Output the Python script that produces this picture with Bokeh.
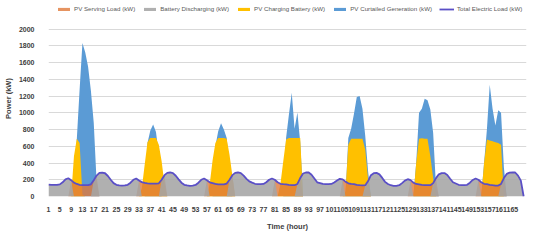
from bokeh.plotting import figure
from bokeh.models import Range1d, FixedTicker, Legend, LegendItem, ColumnDataSource
from bokeh.embed import file_html
from bokeh.resources import INLINE

hours = list(range(1, 170))

# Total electric load (kW), one row per day (hours 1-24 of each day)
load = [
    143, 140, 140, 140, 145, 170, 205, 218, 195, 165, 150, 140, 135, 135, 135, 145, 195, 250, 282, 285, 278, 245, 200, 160,
    140, 132, 130, 132, 140, 165, 200, 215, 192, 172, 162, 158, 155, 155, 155, 158, 200, 255, 283, 287, 280, 248, 205, 165,
    140, 132, 128, 130, 138, 165, 200, 215, 195, 170, 160, 150, 145, 145, 145, 155, 200, 255, 282, 287, 280, 250, 210, 180,
    165, 152, 148, 147, 150, 170, 200, 215, 200, 170, 152, 147, 145, 140, 137, 135, 150, 220, 275, 287, 287, 260, 215, 170,
    160, 150, 147, 147, 150, 168, 192, 212, 205, 178, 158, 150, 147, 140, 135, 132, 135, 185, 255, 279, 282, 265, 222, 175,
    150, 135, 128, 128, 135, 160, 190, 207, 195, 165, 150, 145, 140, 137, 135, 135, 160, 220, 265, 279, 280, 258, 212, 170,
    155, 140, 135, 135, 140, 165, 198, 215, 200, 170, 152, 147, 140, 135, 131, 131, 150, 220, 270, 285, 287, 287, 250, 190,
    0,
]

# PV serving load (kW)
serving = [
    0, 0, 0, 0, 0, 0, 0, 0, 195, 165, 150, 140, 135, 135, 135, 145, 195, 250, 0, 0, 0, 0, 0, 0,
    0, 0, 0, 0, 0, 0, 0, 0, 192, 172, 162, 158, 155, 155, 155, 158, 200, 255, 0, 0, 0, 0, 0, 0,
    0, 0, 0, 0, 0, 0, 0, 0, 195, 170, 160, 150, 145, 145, 145, 155, 200, 255, 0, 0, 0, 0, 0, 0,
    0, 0, 0, 0, 0, 0, 0, 0, 200, 170, 152, 147, 145, 140, 137, 135, 150, 220, 0, 0, 0, 0, 0, 0,
    0, 0, 0, 0, 0, 0, 0, 0, 205, 178, 158, 150, 147, 140, 135, 132, 135, 185, 0, 0, 0, 0, 0, 0,
    0, 0, 0, 0, 0, 0, 0, 0, 195, 165, 150, 145, 140, 137, 135, 135, 160, 220, 0, 0, 0, 0, 0, 0,
    0, 0, 0, 0, 0, 0, 0, 0, 200, 170, 152, 147, 140, 135, 131, 131, 150, 220, 0, 0, 0, 0, 0, 0,
    0,
]

# Battery discharging (kW)
discharging = [
    143, 140, 140, 140, 145, 170, 205, 218, 195, 0, 0, 0, 0, 0, 0, 0, 195, 250, 282, 285, 278, 245, 200, 160,
    140, 132, 130, 132, 140, 165, 200, 215, 192, 0, 0, 0, 0, 0, 0, 0, 200, 255, 283, 287, 280, 248, 205, 165,
    140, 132, 128, 130, 138, 165, 200, 215, 195, 0, 0, 0, 0, 0, 0, 0, 200, 255, 282, 287, 280, 250, 210, 180,
    165, 152, 148, 147, 150, 170, 200, 215, 200, 0, 0, 0, 0, 0, 0, 0, 150, 220, 275, 287, 287, 260, 215, 170,
    160, 150, 147, 147, 150, 168, 192, 212, 205, 0, 0, 0, 0, 0, 0, 0, 135, 185, 255, 279, 282, 265, 222, 175,
    150, 135, 128, 128, 135, 160, 190, 207, 195, 0, 0, 0, 0, 0, 0, 0, 160, 220, 265, 279, 280, 258, 212, 170,
    155, 140, 135, 135, 140, 165, 198, 215, 200, 0, 0, 0, 0, 0, 0, 0, 150, 220, 270, 285, 287, 287, 250, 190,
    0,
]

# PV charging battery (kW)
charging = [
    0, 0, 0, 0, 0, 0, 0, 0, 0, 480, 690, 640, 20, 0, 0, 0, 0, 0, 0, 0, 0, 0, 0, 0,
    0, 0, 0, 0, 0, 0, 0, 0, 0, 100, 380, 650, 700, 700, 700, 620, 420, 150, 0, 0, 0, 0, 0, 0,
    0, 0, 0, 0, 0, 0, 0, 0, 0, 150, 430, 640, 700, 700, 700, 690, 500, 250, 0, 0, 0, 0, 0, 0,
    0, 0, 0, 0, 0, 0, 0, 0, 0, 0, 150, 420, 680, 700, 700, 700, 700, 700, 0, 0, 0, 0, 0, 0,
    0, 0, 0, 0, 0, 0, 0, 0, 0, 60, 620, 690, 690, 690, 690, 690, 560, 200, 0, 0, 0, 0, 0, 0,
    0, 0, 0, 0, 0, 0, 0, 0, 0, 0, 400, 690, 695, 690, 690, 480, 220, 0, 0, 0, 0, 0, 0, 0,
    0, 0, 0, 0, 0, 0, 0, 0, 0, 0, 400, 680, 670, 660, 650, 640, 620, 0, 0, 0, 0, 0, 0, 0,
    0,
]

# PV curtailed generation (kW)
curtailed = [
    0, 0, 0, 0, 0, 0, 0, 0, 0, 0, 680, 1280, 1835, 1720, 1550, 1260, 880, 180, 0, 0, 0, 0, 0, 0,
    0, 0, 0, 0, 0, 0, 0, 0, 0, 0, 0, 640, 790, 860, 770, 500, 0, 0, 0, 0, 0, 0, 0, 0,
    0, 0, 0, 0, 0, 0, 0, 0, 0, 0, 0, 600, 780, 875, 800, 700, 300, 0, 0, 0, 0, 0, 0, 0,
    0, 0, 0, 0, 0, 0, 0, 0, 0, 0, 0, 0, 700, 980, 1240, 810, 1005, 650, 0, 0, 0, 0, 0, 0,
    0, 0, 0, 0, 0, 0, 0, 0, 0, 0, 700, 810, 990, 1190, 1200, 1050, 720, 300, 0, 0, 0, 0, 0, 0,
    0, 0, 0, 0, 0, 0, 0, 0, 0, 0, 400, 1000, 1050, 1170, 1150, 1040, 760, 120, 0, 0, 0, 0, 0, 0,
    0, 0, 0, 0, 0, 0, 0, 0, 0, 0, 400, 800, 1337, 1050, 850, 1030, 1000, 350, 0, 0, 0, 0, 0, 0,
    0,
]

x_ticks = list(range(1, 166, 4))
y_ticks = list(range(0, 2001, 200))

src = ColumnDataSource(dict(hour=hours, load=load, serving=serving,
                            discharging=discharging, charging=charging,
                            curtailed=curtailed))

# The frame reaches the top of the canvas; the space above 2000 kW holds the legend.
p = figure(width=542, height=237, output_backend="svg", toolbar_location=None,
           x_range=Range1d(1, 170), y_range=Range1d(0, 2343),
           min_border_left=37, min_border_right=16, min_border_top=0,
           min_border_bottom=41)
p.outline_line_color = None
p.background_fill_color = "white"
p.border_fill_color = "white"

r_blue = p.varea(x="hour", y1=0, y2="curtailed", source=src, fill_color="#5B9BD5")
r_yel = p.varea(x="hour", y1=0, y2="charging", source=src, fill_color="#FFC000")
r_or = p.varea(x="hour", y1=0, y2="serving", source=src, fill_color="#E0793A", fill_alpha=0.8)
r_gr = p.varea(x="hour", y1=0, y2="discharging", source=src, fill_color="#A5A5A5", fill_alpha=0.88)
r_ln = p.line(x="hour", y="load", source=src, line_color="#5A4FC6", line_width=1.8)

p.xaxis.ticker = FixedTicker(ticks=x_ticks)
p.yaxis.ticker = FixedTicker(ticks=y_ticks)
p.xgrid.visible = False
p.ygrid.grid_line_color = "#D9D9D9"
p.ygrid.grid_line_width = 1

for ax in (p.xaxis[0], p.yaxis[0]):
    ax.axis_line_color = None
    ax.major_tick_line_color = None
    ax.minor_tick_line_color = None
    ax.major_label_text_font = "Liberation Sans"
    ax.major_label_text_font_style = "bold"
    ax.major_label_text_font_size = "7px"
    ax.major_label_text_color = "#404040"
    ax.axis_label_text_font = "Liberation Sans"
    ax.axis_label_text_font_style = "bold"
    ax.axis_label_text_font_size = "7.5px"
    ax.axis_label_text_color = "#404040"

p.xaxis.axis_label = "Time (hour)"
p.yaxis.axis_label = "Power (kW)"
p.xaxis.major_label_standoff = 4
p.yaxis.major_label_standoff = 8
p.xaxis.axis_label_standoff = 7
p.yaxis.axis_label_standoff = 3

legend = Legend(items=[
    LegendItem(label="PV Serving Load (kW)", renderers=[r_or]),
    LegendItem(label="Battery Discharging (kW)", renderers=[r_gr]),
    LegendItem(label="PV Charging Battery (kW)", renderers=[r_yel]),
    LegendItem(label="PV Curtailed Generation (kW)", renderers=[r_blue]),
    LegendItem(label="Total Electric Load (kW)", renderers=[r_ln]),
], location=(8, 183), orientation="horizontal")
legend.padding = 0
legend.margin = 0
legend.spacing = 7
legend.glyph_width = 15
legend.glyph_height = 4
legend.label_height = 9
legend.label_standoff = 3
legend.label_text_font = "Liberation Sans"
legend.label_text_font_size = "6.2px"
legend.label_text_color = "#595959"
legend.border_line_color = None
legend.background_fill_alpha = 0
p.add_layout(legend, "center")

open("out.html", "w").write(file_html(p, INLINE))
